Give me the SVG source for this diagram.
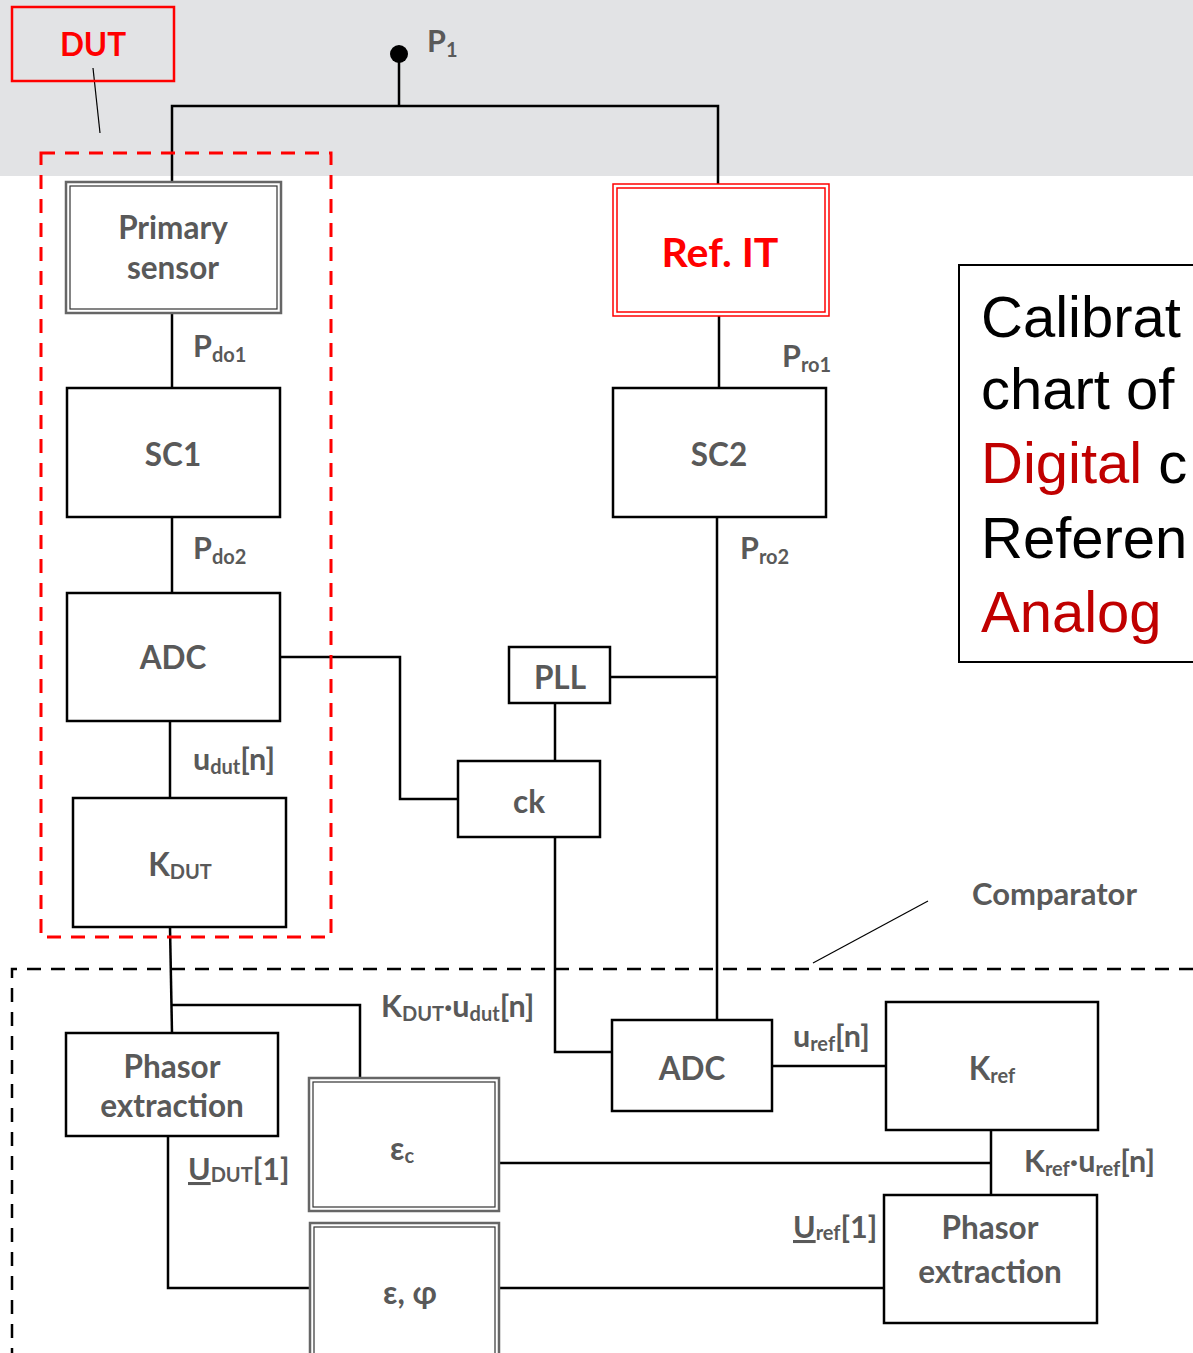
<svg xmlns="http://www.w3.org/2000/svg" width="1193" height="1353" viewBox="0 0 1193 1353">
<defs>
<style>
.box{fill:#fff;stroke:#000;stroke-width:2.5}
.dbo{fill:#fff;stroke:#666;stroke-width:2.5}
.dbi{fill:none;stroke:#333;stroke-width:1.2}
.w{fill:none;stroke:#000;stroke-width:2.5}
.t{font-family:Lato,"Open Sans",sans-serif;font-weight:bold;fill:#595959;font-size:31.5px;text-anchor:middle}
.l{font-family:Lato,"Open Sans",sans-serif;font-weight:bold;fill:#595959;font-size:30.5px}
.s{font-size:20px}
.big{font-family:"Liberation Sans",Arial,sans-serif;font-size:58px;fill:#000}
.red{fill:#c00000}
</style>
</defs>
<rect x="0" y="0" width="1193" height="176" fill="#e2e3e5"/>

<g id="connectors">
<line x1="399" y1="54" x2="399" y2="106" class="w"/>
<circle cx="399" cy="54" r="9" fill="#000"/>
<polyline points="172,182 172,106 718,106 718,186" class="w"/>
<line x1="93" y1="68" x2="100" y2="133" stroke="#000" stroke-width="1.2"/>
<line x1="172" y1="314" x2="172" y2="388" class="w"/>
<line x1="172" y1="517" x2="172" y2="593" class="w"/>
<line x1="170" y1="721" x2="170" y2="798" class="w"/>
<polyline points="170,927 172,1033" class="w"/>
<polyline points="172,1005 360,1005 360,1079" class="w"/>
<line x1="719" y1="316" x2="719" y2="388" class="w"/>
<line x1="717" y1="517" x2="717" y2="1020" class="w"/>
<line x1="610" y1="677" x2="717" y2="677" class="w"/>
<line x1="555" y1="703" x2="555" y2="761" class="w"/>
<polyline points="280,657 400,657 400,799 458,799" class="w"/>
<polyline points="555,837 555,1052 612,1052" class="w"/>
<line x1="772" y1="1066" x2="886" y2="1066" class="w"/>
<line x1="991" y1="1130" x2="991" y2="1195" class="w"/>
<line x1="498" y1="1163" x2="991" y2="1163" class="w"/>
<line x1="498" y1="1288" x2="884" y2="1288" class="w"/>
<polyline points="168,1136 168,1288 312,1288" class="w"/>
<line x1="928" y1="901" x2="813" y2="963" stroke="#000" stroke-width="1.2"/>
</g>

<g id="dut-group">
<rect x="41" y="153" width="290" height="784" fill="none" stroke="#ff0000" stroke-width="3" stroke-dasharray="14,10"/>
</g>
<g id="comparator-group">
<polyline points="1193,969 12,969 12,1353" fill="none" stroke="#000" stroke-width="2.5" stroke-dasharray="14,10"/>
<text x="972" y="905" class="l" style="font-size:31px">Comparator</text>
</g>

<g id="dut-label">
<rect x="12" y="7" width="162" height="74" fill="none" stroke="#ff0000" stroke-width="2.5"/>
<text x="93" y="56" class="t" style="fill:#ff0000">DUT</text>
</g>
<g id="p1-label"><text x="427" y="52" class="l">P<tspan class="s" dy="5">1</tspan></text></g>

<g id="primary-sensor">
<rect x="66" y="182" width="215" height="131" class="dbo"/>
<rect x="70" y="186" width="207" height="123" class="dbi"/>
<text x="173" y="239" class="t">Primary</text>
<text x="173" y="279" class="t">sensor</text>
</g>
<g id="sc1"><rect x="67" y="388" width="213" height="129" class="box"/><text x="173" y="466" class="t">SC1</text></g>
<g id="adc1"><rect x="67" y="593" width="213" height="128" class="box"/><text x="173" y="669" class="t">ADC</text></g>
<g id="kdut"><rect x="73" y="798" width="213" height="129" class="box"/><text x="180" y="876" class="t">K<tspan class="s" dy="3">DUT</tspan></text></g>

<g id="ref-it">
<rect x="613" y="184" width="216" height="132" fill="#fff" stroke="#ff0000" stroke-width="1.5"/>
<rect x="617" y="188" width="208" height="124" fill="none" stroke="#ff0000" stroke-width="1.5"/>
<text x="720" y="267" class="t" style="fill:#ff0000;font-size:41px">Ref. IT</text>
</g>
<g id="sc2"><rect x="613" y="388" width="213" height="129" class="box"/><text x="719" y="466" class="t">SC2</text></g>
<g id="pll"><rect x="509" y="647" width="101" height="56" class="box"/><text x="560" y="689" class="t">PLL</text></g>
<g id="ck"><rect x="458" y="761" width="142" height="76" class="box"/><text x="529" y="813" class="t">ck</text></g>
<g id="adc2"><rect x="612" y="1020" width="160" height="91" class="box"/><text x="692" y="1080" class="t">ADC</text></g>
<g id="kref"><rect x="886" y="1002" width="212" height="128" class="box"/><text x="992" y="1080" class="t">K<tspan class="s" dy="3">ref</tspan></text></g>
<g id="phasor2"><rect x="884" y="1195" width="213" height="128" class="box"/><text x="990" y="1239" class="t">Phasor</text><text x="990" y="1283" class="t">extraction</text></g>
<g id="phasor1"><rect x="66" y="1033" width="212" height="103" class="box"/><text x="172" y="1078" class="t">Phasor</text><text x="172" y="1117" class="t">extraction</text></g>
<g id="eps-c">
<rect x="309" y="1078" width="190" height="133" class="dbo"/>
<rect x="313" y="1082" width="182" height="125" class="dbi"/>
<text x="402" y="1160" class="t">ε<tspan class="s" dy="3">c</tspan></text>
</g>
<g id="eps-phi">
<rect x="310" y="1223" width="189" height="140" class="dbo"/>
<rect x="314" y="1227" width="181" height="132" class="dbi"/>
<text x="410" y="1304" class="t">ε, φ</text>
</g>

<g id="labels">
<text x="193" y="357" class="l">P<tspan class="s" dy="5">do1</tspan></text>
<text x="193" y="559" class="l">P<tspan class="s" dy="5">do2</tspan></text>
<text x="193" y="770" class="l">u<tspan class="s" dy="4">dut</tspan><tspan dy="-4">[n]</tspan></text>
<text x="782" y="367" class="l">P<tspan class="s" dy="5">ro1</tspan></text>
<text x="740" y="559" class="l">P<tspan class="s" dy="5">ro2</tspan></text>
<text x="381" y="1017" class="l">K<tspan class="s" dy="4">DUT</tspan><tspan dy="-4">·u</tspan><tspan class="s" dy="4">dut</tspan><tspan dy="-4">[n]</tspan></text>
<text x="793" y="1047" class="l">u<tspan class="s" dy="4">ref</tspan><tspan dy="-4">[n]</tspan></text>
<text x="1024" y="1172" class="l">K<tspan class="s" dy="4">ref</tspan><tspan dy="-4">·u</tspan><tspan class="s" dy="4">ref</tspan><tspan dy="-4">[n]</tspan></text>
<text x="188" y="1180" class="l"><tspan text-decoration="underline">U</tspan><tspan class="s" dy="2">DUT</tspan><tspan dy="-2">[1]</tspan></text>
<text x="793" y="1238" class="l"><tspan text-decoration="underline">U</tspan><tspan class="s" dy="2">ref</tspan><tspan dy="-2">[1]</tspan></text>
</g>

<g id="note">
<rect x="959" y="265" width="250" height="397" fill="#fff" stroke="#000" stroke-width="2"/>
<text x="981" y="337" class="big">Calibrat</text>
<text x="981" y="409" class="big">chart of</text>
<text x="981" y="483" class="big"><tspan class="red">Digital</tspan> c</text>
<text x="981" y="558" class="big">Referen</text>
<text x="981" y="632" class="big"><tspan class="red">Analog</tspan></text>
</g>
</svg>
